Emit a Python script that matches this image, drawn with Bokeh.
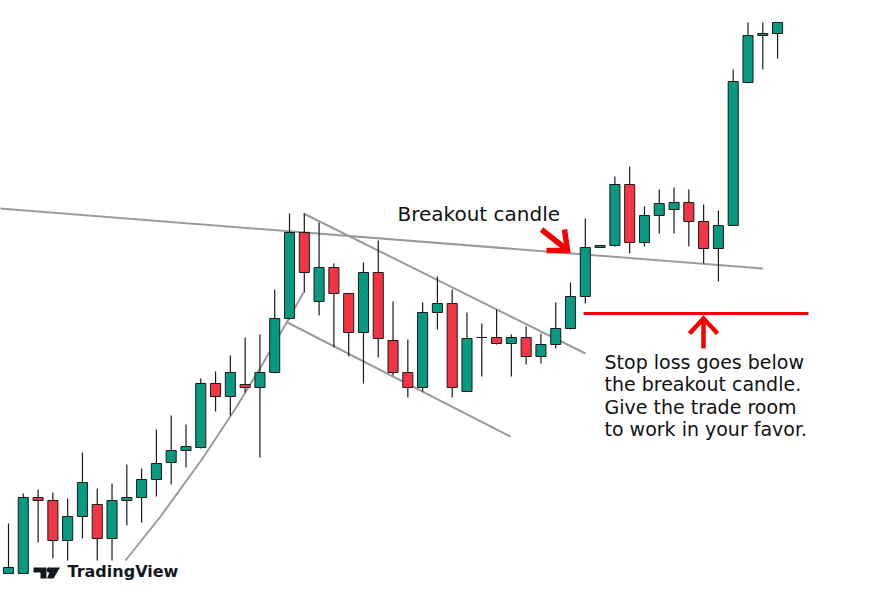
from bokeh.plotting import figure
from bokeh.models import Range1d, ColumnDataSource
from bokeh.embed import file_html
from bokeh.resources import INLINE
from bokeh.core.properties import value

# ---- candle data (index = bar number, prices in arbitrary units) ----
opens = [104.7, 104.7, 112.3, 112.0, 108.0, 110.4, 111.6, 108.2, 112.0, 112.3,
         114.1, 115.8, 117.0, 117.3, 123.7, 122.4, 123.6, 123.3, 124.8, 130.2,
         138.8, 131.9, 135.3, 132.7, 128.8, 134.8, 128.0, 124.8, 123.3, 130.8,
         131.7, 122.9, 128.3, 128.3, 127.7, 128.3, 126.4, 127.6, 129.2, 132.4,
         137.3, 137.5, 143.6, 137.8, 140.5, 141.1, 141.8, 139.9, 137.2, 139.5,
         153.8, 158.5, 158.7]
highs = [109.7, 112.7, 113.1, 112.8, 112.2, 116.8, 113.2, 113.7, 115.6, 115.2,
         119.1, 120.5, 119.6, 124.2, 124.9, 126.5, 128.3, 128.6, 133.1, 140.7,
         140.7, 139.8, 135.7, 132.7, 135.8, 138.0, 131.9, 128.1, 131.8, 134.4,
         133.1, 130.8, 129.7, 131.1, 128.6, 129.4, 128.7, 131.8, 133.8, 140.2,
         137.5, 144.4, 145.4, 141.4, 143.1, 143.3, 143.1, 141.6, 141.0, 155.1,
         159.8, 159.8, 159.8]
lows = [104.7, 104.7, 107.8, 106.2, 106.0, 108.2, 106.0, 106.0, 109.5, 109.8,
        112.4, 113.6, 115.3, 117.2, 120.9, 120.5, 122.8, 116.3, 124.7, 130.1,
        132.8, 130.5, 127.3, 126.4, 123.7, 126.3, 124.5, 122.3, 122.9, 129.1,
        122.3, 122.9, 124.4, 127.6, 124.4, 125.6, 125.7, 127.2, 129.1, 131.7,
        137.3, 137.4, 136.7, 137.4, 138.7, 138.7, 137.4, 135.7, 133.9, 139.5,
        153.7, 155.1, 156.2]
closes = [105.3, 112.3, 112.0, 108.0, 110.4, 113.8, 108.2, 112.0, 112.3, 114.1,
          115.7, 117.0, 117.4, 123.7, 122.4, 124.8, 123.3, 124.8, 130.2, 138.8,
          134.8, 135.3, 132.7, 128.8, 134.8, 128.2, 124.8, 123.3, 130.8, 131.7,
          123.3, 128.2, 128.3, 127.7, 128.3, 126.4, 127.6, 129.2, 132.4, 137.3,
          137.5, 143.6, 137.8, 140.5, 141.7, 141.8, 139.9, 137.2, 139.5, 153.9,
          158.5, 158.7, 159.8]
bars = list(range(len(opens)))

# ---- drawn annotations (bar index, price) ----
resistance_x = [-0.6, 51.0]
resistance_y = [141.2, 135.2]
wedge_top_x = [19.95, 39.01]
wedge_top_y = [140.7, 126.7]
wedge_bot_x = [18.86, 33.94]
wedge_bot_y = [129.8, 118.4]
curve_x = [7.91, 10.28, 13.12, 15.35, 17.04, 18.73, 19.95]
curve_y = [106.0, 110.4, 116.2, 121.2, 125.3, 129.6, 132.8]
stop_x = [38.88, 54.09]
stop_price = 130.7

breakout_label = "Breakout candle"
stop_lines = ["Stop loss goes below", "the breakout candle.",
              "Give the trade room", "to work in your favor."]

GREEN = "#089981"
RED = "#f23645"
GRAY = "#9b9b9b"
ARROW_RED = "#f40000"

W, H = 855, 598
PXU = 14.79   # px per bar
PYU = 10.0    # px per price unit

def lx(px):
    return (px - 8) / PXU

def ly(py):
    return 162.0 - py / PYU

X0, X1 = lx(0), lx(W)
Y0, Y1 = ly(H), ly(0)

p = figure(width=W, height=H, x_range=Range1d(X0, X1), y_range=Range1d(Y0, Y1),
           output_backend="svg", toolbar_location=None, min_border=0,
           x_axis_type=None, y_axis_type=None,
           background_fill_color="white", border_fill_color="white",
           outline_line_color=None)
p.grid.visible = False

# gray trend lines (behind candles)
p.line(resistance_x, resistance_y, line_color=GRAY, line_width=2)
p.line(wedge_top_x, wedge_top_y, line_color=GRAY, line_width=2)
p.line(wedge_bot_x, wedge_bot_y, line_color=GRAY, line_width=2)
p.line(curve_x, curve_y, line_color=GRAY, line_width=2)

# candles
tops = [max(o, c) for o, c in zip(opens, closes)]
bots = [min(o, c) for o, c in zip(opens, closes)]
cols = [GREEN if c >= o else RED for o, c in zip(opens, closes)]
src = ColumnDataSource(dict(x=bars, h=highs, l=lows, t=tops, b=bots, c=cols))
p.segment(x0="x", y0="h", x1="x", y1="l", source=src, line_color="#1a1a1a", line_width=1.2)
p.vbar(x="x", width=0.68, top="t", bottom="b", fill_color="c", line_color="#1a1a1a",
       line_width=1, source=src)

# stop loss line
p.line(stop_x, [stop_price, stop_price], line_color=ARROW_RED, line_width=3)

# up arrow under stop line
ax = lx(703)
p.line([ax, ax], [ly(348), ly(319)], line_color=ARROW_RED, line_width=4.5)
p.line([lx(689), ax, lx(717)], [ly(333), ly(318), ly(333)], line_color=ARROW_RED,
       line_width=4.5, line_join="miter")

# breakout arrow
p.line([lx(541), lx(565)], [ly(229), ly(248)], line_color=ARROW_RED, line_width=5.5)
p.line([lx(546), lx(567), lx(564)], [ly(250), ly(250), ly(229)], line_color=ARROW_RED,
       line_width=5.5, line_join="miter")

# texts
p.text(x=[lx(397)], y=[ly(213)], text=[breakout_label], text_font=value("DejaVu Sans"),
       text_font_size="20px", text_color="#111111", text_baseline="alphabetic",
       text_align="left")
p.text(x=[lx(604)] * 4, y=[ly(361.5), ly(383.8), ly(406.1), ly(428.5)], text=stop_lines,
       text_font=value("DejaVu Sans"), text_font_size="19px", text_color="#111111",
       text_baseline="alphabetic", text_align="left")

# TradingView watermark
p.patch([lx(v) for v in [33, 46, 46, 40, 40, 33]],
        [ly(v) for v in [567, 567, 578, 578, 572, 572]], fill_color="#131722", line_color=None)
p.scatter([lx(49)], [ly(569.5)], size=5.5, marker="circle", fill_color="#131722", line_color=None)
p.patch([lx(v) for v in [51, 59.5, 53, 46.5]],
        [ly(v) for v in [567, 567, 578, 578]], fill_color="#131722", line_color=None)
p.text(x=[lx(67)], y=[ly(571)], text=["TradingView"], text_font=value("DejaVu Sans"),
       text_font_size="16px", text_font_style="bold", text_color="#131722",
       text_baseline="alphabetic", text_align="left")

open("out.html", "w").write(file_html(p, INLINE))
